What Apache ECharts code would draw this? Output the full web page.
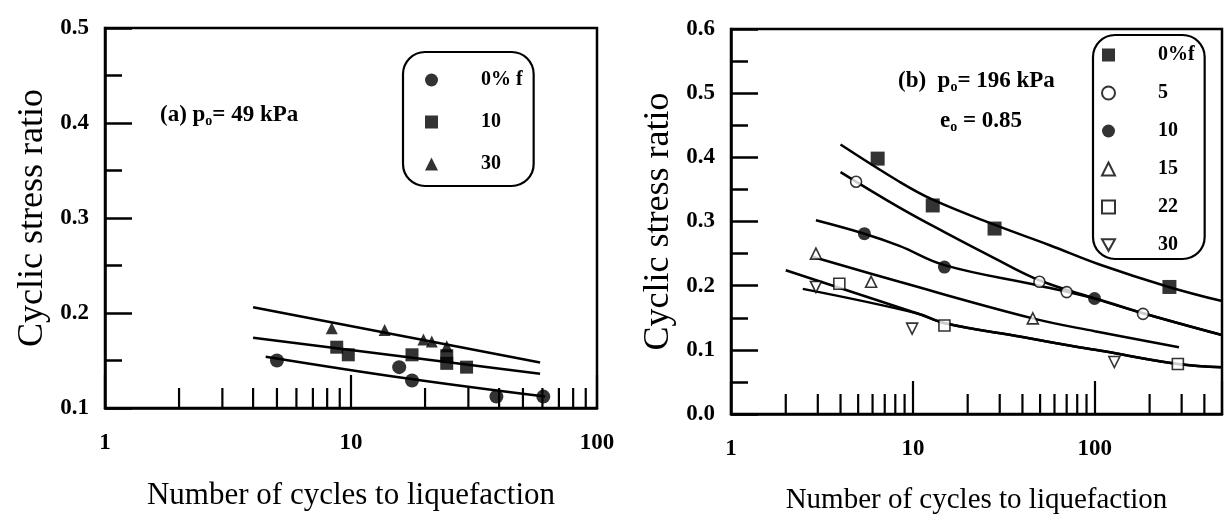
<!DOCTYPE html>
<html>
<head>
<meta charset="utf-8">
<script src="https://cdn.jsdelivr.net/npm/echarts@6/dist/echarts.min.js"></script>
<style>
html, body { margin: 0; padding: 0; background: #fff; }
#chart { width: 1227px; height: 527px; }
</style>
</head>
<body>
<div id="chart"></div>
<script>
// ---- (a) p0 = 49 kPa ----
const aFines0 = [[5, 0.150], [15.7, 0.143], [17.7, 0.129], [39, 0.112], [60.5, 0.112]]
const aFines10 = [[8.75, 0.164], [9.75, 0.156], [17.7, 0.156], [24.5, 0.155], [24.5, 0.147], [29.5, 0.143]]
const aFines30 = [[8.35, 0.184], [13.7, 0.182], [19.7, 0.172], [21.3, 0.170], [24.5, 0.165]]
const aLine0 = [[4.5, 0.154], [17, 0.131], [61.5, 0.112]]
const aLine10 = [[4, 0.174], [58.7, 0.136]]
const aLine30 = [[4, 0.206], [58.7, 0.148]]

// ---- (b) p0 = 196 kPa, e0 = 0.85 ----
const bFines0 = [[6.4, 0.398], [12.85, 0.325], [28.1, 0.289], [257, 0.198]]
const bFines5 = [[4.87, 0.362], [49.6, 0.206], [70, 0.19], [184, 0.156]]
const bFines10 = [[5.41, 0.281], [14.9, 0.229], [99.6, 0.18]]
const bFines15 = [[2.93, 0.25], [5.89, 0.206], [45.6, 0.149]]
const bFines22 = [[3.94, 0.203], [14.9, 0.138], [286, 0.078]]
const bFines30 = [[2.93, 0.198], [9.9, 0.133], [128, 0.081]]
const bLine0 = [[4, 0.42], [8.43, 0.362], [12.85, 0.334], [28, 0.295], [56.5, 0.263], [106, 0.233], [255, 0.198], [500, 0.176]]
const bLine5 = [[4, 0.377], [8.4, 0.322], [15, 0.283], [28, 0.243], [50, 0.208], [100, 0.18], [184, 0.157], [500, 0.123]]
const bLine10 = [[2.93, 0.302], [5.41, 0.281], [8.43, 0.262], [14.9, 0.232], [49.6, 0.2], [100, 0.18], [184, 0.157], [500, 0.123]]
const bLine15 = [[2.8, 0.245], [8.43, 0.206], [45.6, 0.149], [100, 0.129], [290, 0.104]]
const bLine22 = [[2, 0.224], [10.5, 0.157], [15.2, 0.141], [40, 0.12], [82, 0.104], [106, 0.099], [286, 0.078], [500, 0.073]]
const bLine30 = [[2.48, 0.195], [10.5, 0.157], [15.2, 0.141], [40, 0.12], [82, 0.104], [106, 0.099], [286, 0.078], [500, 0.073]]

// minor ticks of the log axes
const aMinorTicks = [2, 3, 4, 5, 6, 7, 8, 9, 20, 30, 40, 50, 60, 70, 80, 90]
const bMinorTicks = [2, 3, 4, 5, 6, 7, 8, 9, 20, 30, 40, 50, 60, 70, 80, 90, 200, 300, 400]

const legendText = {
    a0: '0% f', a10: '10', a30: '30',
    b0: '0%f', b5: '5', b10: '10', b15: '15', b22: '22', b30: '30'
}

const FONT = 'Liberation Serif'
const invTri = 'path://M0,0 L10,0 L5,9 Z'
const openStyle = { color: '#fff', borderColor: '#000', borderWidth: 1.6 }
const fillStyle = { color: '#000' }

const myChart = echarts.init(document.getElementById('chart'))

const pts = (name, idx, data, symbol, size, style) => ({
    name: name, type: 'scatter', xAxisIndex: idx, yAxisIndex: idx,
    data: data, symbol: symbol, symbolSize: size, itemStyle: style, z: 5
})
const curve = (idx, data) => ({
    type: 'line', xAxisIndex: idx, yAxisIndex: idx, data: data,
    symbol: 'none', smooth: 0.4, silent: true,
    lineStyle: { color: '#000', width: 2.5 }, z: 3
})
const minorTicks = (idx, values, yMin) => ({
    type: 'custom', xAxisIndex: idx, yAxisIndex: idx, silent: true,
    data: values.map(v => [v, yMin]),
    renderItem: (params, api) => {
        const p = api.coord([api.value(0), api.value(1)])
        return {
            type: 'line',
            shape: { x1: p[0], y1: p[1], x2: p[0], y2: p[1] - 20 },
            style: { stroke: '#000', lineWidth: 2.2 }
        }
    }
})

const xAxisBase = (idx, max, nameSize) => ({
    type: 'log', logBase: 10, gridIndex: idx, min: 1, max: max,
    splitLine: { show: false },
    axisLine: { lineStyle: { color: '#000', width: 2.5 } },
    axisTick: { inside: true, length: 33, lineStyle: { color: '#000', width: 2.2 } },
    axisLabel: {
        color: '#000', fontFamily: FONT, fontSize: 23, fontWeight: 'bold', margin: 24,
        formatter: v => ([1, 10, 100].includes(Math.round(v)) ? String(Math.round(v)) : '')
    },
    name: 'Number of cycles to liquefaction',
    nameLocation: 'middle', nameGap: 72,
    nameTextStyle: { color: '#000', fontFamily: FONT, fontSize: nameSize }
})
const yAxisBase = (idx, min, max) => ({
    type: 'value', gridIndex: idx, min: min, max: max, interval: 0.1,
    splitLine: { show: false },
    axisLine: { lineStyle: { color: '#000', width: 2.5 } },
    axisTick: { inside: true, length: 27, lineStyle: { color: '#000', width: 2.5 } },
    minorTick: { show: true, splitNumber: 2, length: 17, lineStyle: { color: '#000', width: 2.5 } },
    minorSplitLine: { show: false },
    axisLabel: {
        color: '#000', fontFamily: FONT, fontSize: 23, fontWeight: 'bold', margin: 16,
        formatter: v => v.toFixed(1)
    },
    name: 'Cyclic stress ratio',
    nameLocation: 'middle', nameGap: 54,
    nameTextStyle: { color: '#000', fontFamily: FONT, fontSize: 36 }
})
const legendBase = {
    orient: 'vertical',
    borderColor: '#000', borderWidth: 2.2, borderRadius: 22,
    itemWidth: 13, itemHeight: 13,
    formatter: name => legendText[name],
    textStyle: {
        color: '#000', fontFamily: FONT, fontSize: 20, fontWeight: 'bold',
        lineHeight: 20, padding: [0, 0, 0, 38]
    }
}
const note = (text, left, top) => ({
    type: 'text', left: left, top: top,
    style: {
        text: text, fill: '#000', font: 'bold 23px "Liberation Serif"',
        rich: { s: { fontSize: 14, fontWeight: 'bold', fontFamily: FONT, padding: [11, 0, 0, 0] } }
    }
})

myChart.setOption({
    backgroundColor: '#fff',
    animation: false,
    grid: [
        { left: 105, right: 630, top: 28, bottom: 119, show: true, borderColor: '#000', borderWidth: 2.5 },
        { left: 731, right: 5, top: 29, bottom: 113, show: true, borderColor: '#000', borderWidth: 2.5 }
    ],
    xAxis: [xAxisBase(0, 100, 31), xAxisBase(1, 500, 29)],
    yAxis: [yAxisBase(0, 0.1, 0.5), yAxisBase(1, 0, 0.6)],
    legend: [
        Object.assign({}, legendBase, {
            left: 403, top: 52, itemGap: 22, padding: [18, 11, 12, 22],
            data: ['a0', 'a10', 'a30']
        }),
        Object.assign({}, legendBase, {
            left: 1093, top: 35, itemGap: 18, padding: [10, 10, 4, 8],
            data: ['b0', 'b5', 'b10', 'b15', 'b22', 'b30']
        })
    ],
    graphic: [
        note('(a) p{s|o}= 49 kPa', 160, 104),
        note('(b)  p{s|o}= 196 kPa', 898, 70),
        note('e{s|o} = 0.85', 940, 110)
    ],
    series: [
        curve(0, aLine0), curve(0, aLine10), curve(0, aLine30),
        minorTicks(0, aMinorTicks, 0.1),
        pts('a0', 0, aFines0, 'circle', 14, fillStyle),
        pts('a10', 0, aFines10, 'rect', 13, fillStyle),
        pts('a30', 0, aFines30, 'triangle', 12, fillStyle),

        curve(1, bLine0), curve(1, bLine5), curve(1, bLine10),
        curve(1, bLine15), curve(1, bLine22), curve(1, bLine30),
        minorTicks(1, bMinorTicks, 0),
        pts('b0', 1, bFines0, 'rect', 14, fillStyle),
        pts('b5', 1, bFines5, 'circle', 11, openStyle),
        pts('b10', 1, bFines10, 'circle', 13, fillStyle),
        pts('b15', 1, bFines15, 'triangle', 11, openStyle),
        pts('b22', 1, bFines22, 'rect', 11, openStyle),
        pts('b30', 1, bFines30, invTri, 11, openStyle)
    ]
})
</script>
</body>
</html>
